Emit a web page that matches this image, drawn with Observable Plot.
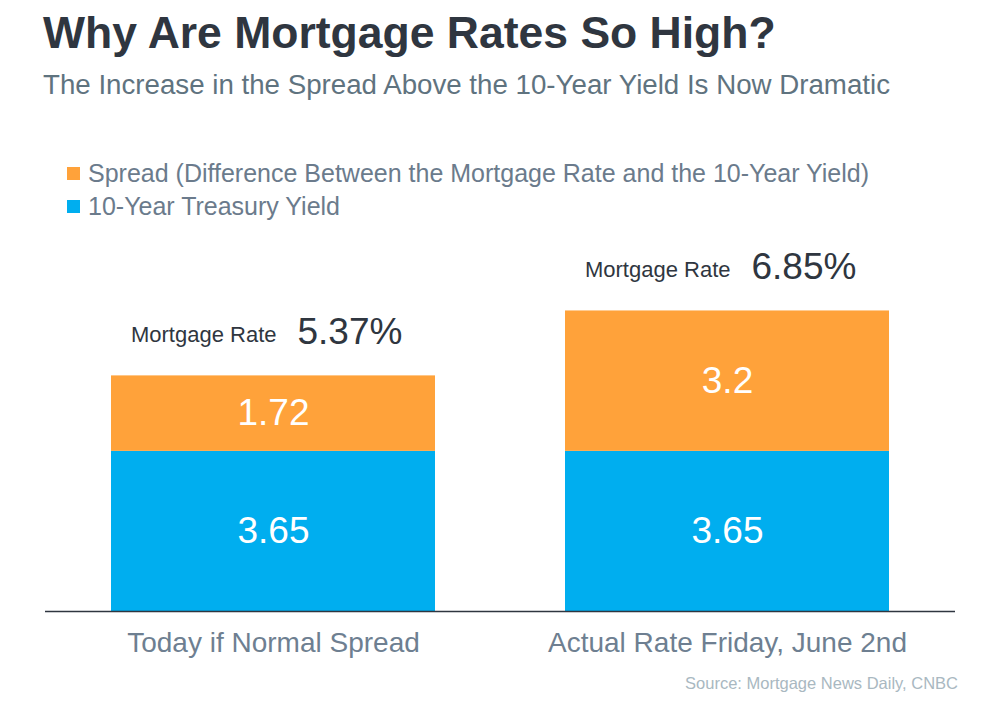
<!DOCTYPE html>
<html>
<head>
<meta charset="utf-8">
<script src="https://cdn.jsdelivr.net/npm/d3@7"></script>
<script src="https://cdn.jsdelivr.net/npm/@observablehq/plot@0.6"></script>
<style>
  html, body { margin: 0; padding: 0; background: #fff; }
  body { width: 1000px; height: 701px; position: relative; overflow: hidden; font-family: "Liberation Sans", Arial, sans-serif; }
  .abs { position: absolute; white-space: nowrap; line-height: 1; }
  #title { left: 43px; top: 11px; font-size: 44.5px; font-weight: bold; color: #2F3640; }
  #subtitle { left: 43px; top: 70.5px; font-size: 27.7px; color: #5F737F; }
  .leg { left: 67px; font-size: 25px; color: #6B7B8C; display: flex; align-items: center; }
  .sw { width: 13px; height: 13px; margin-right: 8px; display: inline-block; }
  #chart { left: 0; top: 230px; }
  #source { right: 42px; top: 675px; font-size: 16.5px; color: #A9B8C1; }
</style>
</head>
<body>
<div id="title" class="abs">Why Are Mortgage Rates So High?</div>
<div id="subtitle" class="abs">The Increase in the Spread Above the 10-Year Yield Is Now Dramatic</div>
<div id="legend"></div>
<div id="chart" class="abs"></div>
<div id="source" class="abs">Source: Mortgage News Daily, CNBC</div>
<script>
const categories = ["Today if Normal Spread", "Actual Rate Friday, June 2nd"];
const treasuryYield = [3.65, 3.65];
const spread = [1.72, 3.2];
const mortgageRate = [5.37, 6.85];
const seriesNames = ["10-Year Treasury Yield", "Spread (Difference Between the Mortgage Rate and the 10-Year Yield)"];
const seriesColors = ["#00AEEF", "#FFA23A"];
const legendOrder = [1, 0];

// legend
const legend = document.getElementById("legend");
legendOrder.forEach((si, i) => {
  const d = document.createElement("div");
  d.className = "abs leg";
  d.style.top = (160 + i * 33.5) + "px";
  d.style.height = "26px";
  d.innerHTML = `<span class="sw" style="background:${seriesColors[si]}"></span><span>${seriesNames[si]}</span>`;
  legend.appendChild(d);
});

const rows = [];
categories.forEach((c, i) => {
  rows.push({category: c, series: seriesNames[0], value: treasuryYield[i]});
  rows.push({category: c, series: seriesNames[1], value: spread[i]});
});
const rates = categories.map((c, i) => ({category: c, rate: mortgageRate[i]}));

const chart = Plot.plot({
  width: 1000,
  height: 440,
  marginLeft: 45,
  marginRight: 45,
  marginTop: 30,
  marginBottom: 59,
  style: {fontFamily: "Liberation Sans, Arial, sans-serif", color: "#6E7F91", background: "transparent"},
  x: {domain: categories, paddingInner: 0.2857, paddingOuter: 0.143, label: null},
  y: {domain: [0, 8], axis: null},
  color: {domain: seriesNames, range: seriesColors},
  marks: [
    Plot.barY(rows, {x: "category", y: "value", fill: "series", order: seriesNames}),
    Plot.text(rows, Plot.stackY({x: "category", y: "value", z: "series", order: seriesNames,
      text: d => String(d.value), fill: "white", fontSize: 37})),
    Plot.ruleY([0], {stroke: "#2F3640", strokeWidth: 1.5}),
    Plot.axisX({tickSize: 0, tickPadding: 21, fontSize: 28, label: null, fill: "#6E7F91"}),
    Plot.text(rates, {x: "category", y: "rate", text: () => "Mortgage Rate", textAnchor: "end",
      dx: 3, dy: -41, fontSize: 22, fill: "#2F3640"}),
    Plot.text(rates, {x: "category", y: "rate", text: d => d.rate.toFixed(2) + "%", textAnchor: "start",
      dx: 24, dy: -43.5, fontSize: 37, fill: "#2F3640"})
  ]
});
document.getElementById("chart").appendChild(chart);
</script>
</body>
</html>
